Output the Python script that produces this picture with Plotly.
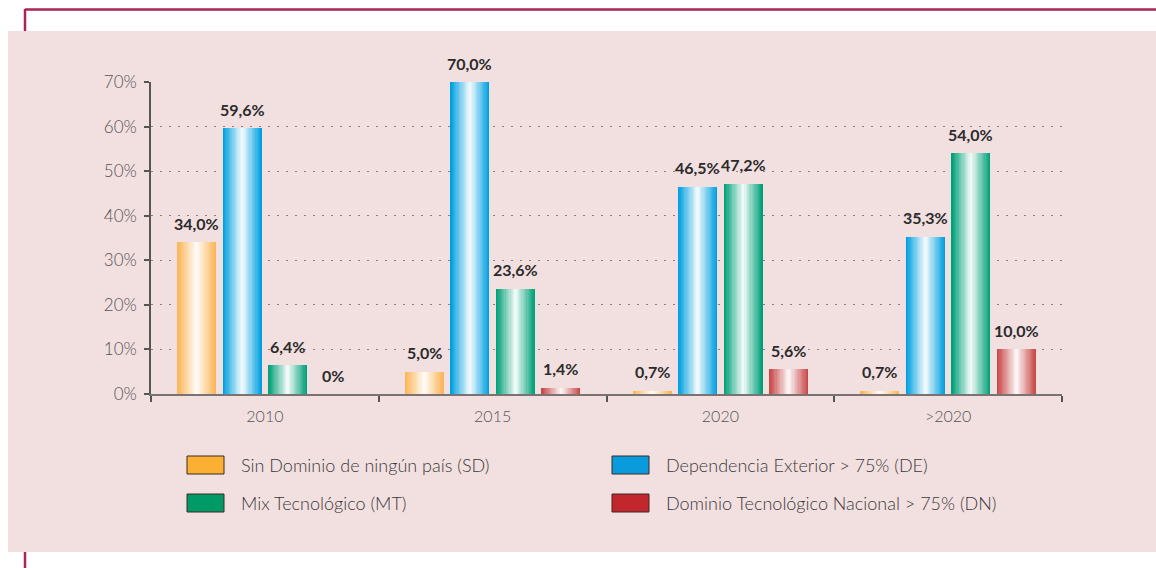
import plotly.graph_objects as go

# ---------------- data ----------------
categories = ["2010", "2015", "2020", ">2020"]
series_names = [
    "Sin Dominio de ningún país (SD)",
    "Dependencia Exterior > 75% (DE)",
    "Mix Tecnológico (MT)",
    "Dominio Tecnológico Nacional > 75% (DN)",
]
sd_values = [34.0, 5.0, 0.7, 0.7]
de_values = [59.6, 70.0, 46.5, 35.3]
mt_values = [6.4, 23.6, 47.2, 54.0]
dn_values = [0.0, 1.4, 5.6, 10.0]
sd_labels = ["34,0%", "5,0%", "0,7%", "0,7%"]
de_labels = ["59,6%", "70,0%", "46,5%", "35,3%"]
mt_labels = ["6,4%", "23,6%", "47,2%", "54,0%"]
dn_labels = ["0%", "1,4%", "5,6%", "10,0%"]
y_tickvals = [0, 10, 20, 30, 40, 50, 60, 70]
y_ticktext = ["0%", "10%", "20%", "30%", "40%", "50%", "60%", "70%"]

series_values = [sd_values, de_values, mt_values, dn_values]
series_labels = [sd_labels, de_labels, mt_labels, dn_labels]

# ---------------- style ----------------
edge_colors = [(251, 181, 86), (0, 160, 224), (0, 160, 120), (200, 72, 72)]
legend_colors = ["#fbb034", "#0a9bdc", "#009a66", "#c1272d"]
FONT = "Lato"
W, H = 1156, 568
L, R, T, B = 151, 94, 82, 174
PW, PH = W - L - R, H - T - B


def px_x(px):
    return (px - L) / PW


def px_y(py):
    return (H - B - py) / PH


def mix(c, t):
    r = [round(c[i] + (255 - c[i]) * t) for i in range(3)]
    return f"rgb({r[0]},{r[1]},{r[2]})"


bar_w = 0.171
step = 0.2
N = 16

fig = go.Figure()
for j, vals in enumerate(series_values):
    xs = [i + (j - 1.5) * step for i in range(len(categories))]
    for k in range(N):
        frac = 1 - k / N
        fig.add_trace(go.Bar(
            x=xs, y=vals, width=bar_w * frac,
            marker=dict(color=mix(edge_colors[j], k / N), line=dict(width=0)),
            showlegend=False, hoverinfo="skip",
        ))
    for i, (v, lab) in enumerate(zip(vals, series_labels[j])):
        fig.add_annotation(
            x=xs[i], y=v, text=f"<b>{lab}</b>", showarrow=False,
            yshift=19, yanchor="middle", xanchor="center",
            font=dict(family=FONT, size=16, color="#2b2b2b"),
        )

shapes = []
# pink panel
shapes.append(dict(type="rect", xref="paper", yref="paper",
                   x0=px_x(8), x1=px_x(1160), y0=px_y(552), y1=px_y(31),
                   fillcolor="#f2dfe0", line=dict(width=0), layer="below"))
# crimson frame
frame = "#a82656"
shapes.append(dict(type="line", xref="paper", yref="paper",
                   x0=px_x(25), x1=px_x(1160), y0=px_y(9.5), y1=px_y(9.5),
                   line=dict(color=frame, width=2.5), layer="below"))
shapes.append(dict(type="line", xref="paper", yref="paper",
                   x0=px_x(25), x1=px_x(25), y0=px_y(9), y1=px_y(31),
                   line=dict(color=frame, width=2.5), layer="below"))
shapes.append(dict(type="line", xref="paper", yref="paper",
                   x0=px_x(25), x1=px_x(25), y0=px_y(552), y1=px_y(570),
                   line=dict(color=frame, width=2.5), layer="below"))

# custom legend
leg_pos = [(187, 465), (612, 465), (187, 503), (612, 503)]
for j, name in enumerate(series_names):
    sx, sy = leg_pos[j]
    shapes.append(dict(type="rect", xref="paper", yref="paper",
                       x0=px_x(sx), x1=px_x(sx + 37), y0=px_y(sy + 9), y1=px_y(sy - 9),
                       fillcolor=legend_colors[j], line=dict(color="#3a2b22", width=1)))
    fig.add_annotation(x=px_x(sx + 52), y=px_y(sy), xref="paper", yref="paper",
                       text=name, showarrow=False, xanchor="left", yanchor="middle",
                       font=dict(family=FONT, size=18, color="#3a3a3a", weight=300))

fig.update_layout(
    width=W, height=H,
    margin=dict(l=L, r=R, t=T, b=B),
    paper_bgcolor="white",
    plot_bgcolor="rgba(0,0,0,0)",
    barmode="overlay",
    bargap=0,
    shapes=shapes,
    showlegend=False,
    xaxis=dict(
        range=[-0.5, len(categories) - 0.5],
        tickvals=list(range(len(categories))), ticktext=categories,
        ticks="", showgrid=False, zeroline=False,
        showline=True, linecolor="#7a7373", linewidth=1.5,
        tickfont=dict(family=FONT, size=16, color="#555555", weight=300),
        ticklabelstandoff=7,
        minor=dict(tickvals=[i - 0.5 for i in range(len(categories) + 1)],
                   ticks="outside", ticklen=6, tickcolor="#555555", tickwidth=1.5,
                   showgrid=False),
        fixedrange=True,
    ),
    yaxis=dict(
        range=[0, 70], tickvals=y_tickvals, ticktext=y_ticktext,
        ticks="outside", ticklen=5, tickcolor="#555555", tickwidth=1.5,
        showline=True, linecolor="#5a5555", linewidth=1.5,
        showgrid=True, gridcolor="#8a8080", griddash="1.5px,7.5px", gridwidth=1.2,
        zeroline=False,
        tickfont=dict(family=FONT, size=17, color="#555555", weight=300),
        ticklabelstandoff=4,
        fixedrange=True,
    ),
)

fig.write_html(
    "out.html",
    config={"displayModeBar": False},
    post_script="document.body.style.margin='0';document.body.style.overflow='hidden';",
)
